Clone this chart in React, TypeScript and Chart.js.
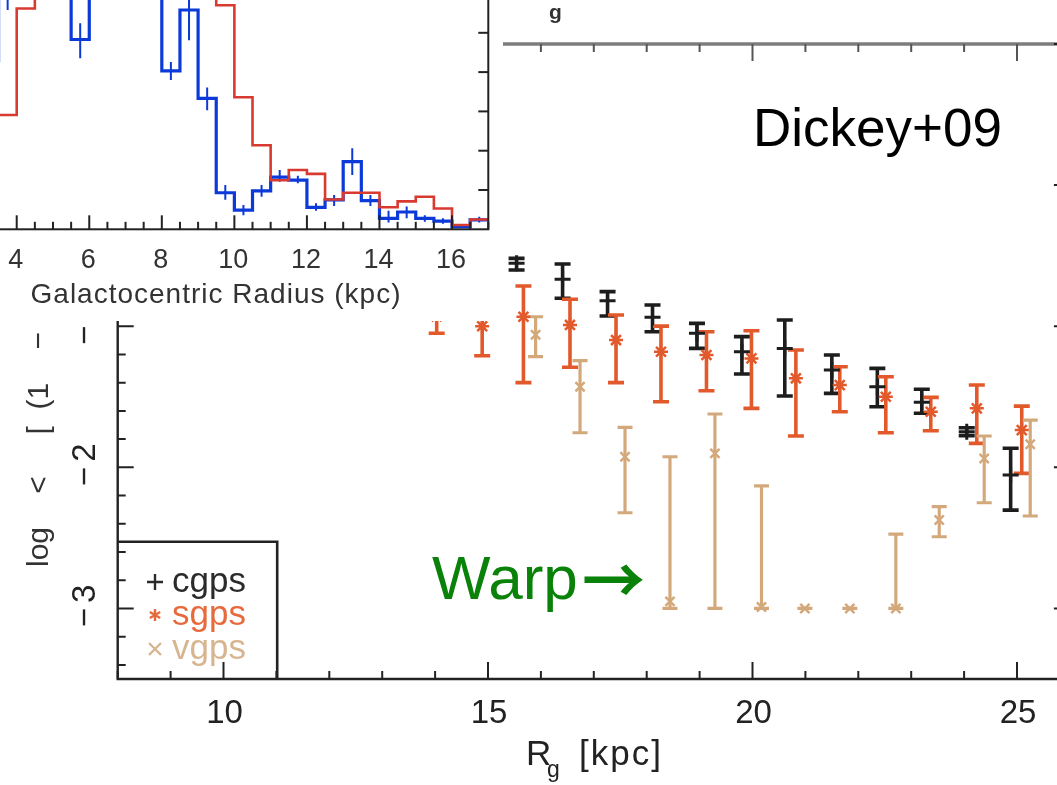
import React, { useEffect, useRef } from 'react';
import { Chart, registerables } from 'chart.js';
Chart.register(...registerables);

const FONT = '"Liberation Sans", Arial, Helvetica, sans-serif';

// ---------------- main panel data (R_g in kpc, log value) ----------------
const cgpsR = [15.54, 16.41, 17.26, 18.11, 18.95, 19.8, 20.61, 21.5, 22.36, 23.2, 24.05, 24.88];
const cgpsVal = [-0.554, -0.668, -0.819, -0.937, -1.05, -1.181, -1.157, -1.31, -1.429, -1.539, -1.748, -2.055];
const cgpsLo = [-0.602, -0.802, -0.928, -1.039, -1.157, -1.339, -1.495, -1.476, -1.571, -1.617, -1.775, -2.303];
const cgpsHi = [-0.519, -0.559, -0.755, -0.85, -0.98, -1.074, -0.956, -1.204, -1.299, -1.447, -1.72, -1.865];

const sgpsR = [14.03, 14.89, 15.67, 16.55, 17.42, 18.27, 19.13, 19.98, 20.82, 21.65, 22.52, 23.37, 24.24, 25.09];
const sgpsVal = [-0.93, -1.0, -0.933, -0.991, -1.098, -1.181, -1.204, -1.228, -1.369, -1.417, -1.5, -1.606, -1.582, -1.736];
const sgpsLo = [-1.05, -1.209, -1.4, -1.291, -1.4, -1.535, -1.457, -1.582, -1.778, -1.606, -1.755, -1.741, -1.83, -2.043];
const sgpsHi = [-0.82, -0.78, -0.715, -0.809, -0.921, -0.999, -1.039, -1.032, -1.169, -1.287, -1.358, -1.504, -1.417, -1.566];

const vgpsR = [15.9, 16.74, 17.59, 18.44, 19.29, 20.17, 20.99, 21.84, 22.71, 23.53, 24.38, 25.25];
const vgpsVal = [-1.06, -1.429, -1.925, -2.95, -1.901, -2.99, -3.0, -3.0, -3.0, -2.373, -1.937, -1.836];
const vgpsLo = [-1.216, -1.755, -2.322, -3.0, -3.0, -3.0, -3.0, -3.0, -3.0, -2.492, -2.251, -2.345];
const vgpsHi = [-0.933, -1.244, -1.717, -1.925, -1.622, -2.132, -3.0, -3.0, -2.473, -2.279, -1.778, -1.665];

const xTickValues = [10, 15, 20, 25];
const xTickLabels = ['10', '15', '20', '25'];
const yTickValues = [-3, -2, -1];
const yTickLabels = ['\u22123', '\u22122', '\u22121'];
const legendLabels = ['cgps', 'sgps', 'vgps'];

// ---------------- inset histogram data ----------------
const insetBinLeft = [3.0, 3.5, 4.0, 4.5, 5.0, 5.5, 6.0, 6.5, 7.0, 7.5, 8.0, 8.5, 9.0, 9.5, 10.0, 10.5, 11.0, 11.5, 12.0, 12.5, 13.0, 13.5, 14.0, 14.5, 15.0, 15.5, 16.0, 16.5];
const insetLastEdge = 17.0;
const insetRed = [2.27, 2.91, 5.62, 7.0, 7.5, 7.8, 8.0, 8.0, 7.6, 7.2, 7.0, 6.8, 6.5, 5.7, 3.36, 2.14, 1.25, 1.51, 1.41, 0.76, 0.93, 0.93, 0.56, 0.71, 0.83, 0.53, 0.11, 0.25];
const insetBlue = [4.3, 6.3, 6.5, 6.8, 6.2, 4.83, 6.5, 7.0, 7.2, 6.8, 4.03, 5.58, 3.33, 0.93, 0.49, 0.98, 1.33, 1.25, 0.56, 0.75, 1.72, 0.73, 0.28, 0.44, 0.28, 0.21, 0.07, 0.24];
const insetBlueErrLo = [null, 5.58, null, null, null, 4.35, null, null, null, null, 3.8, 4.81, 3.03, 0.75, 0.36, 0.83, 1.21, 1.17, 0.47, 0.59, 1.38, 0.59, 0.17, 0.28, 0.19, 0.14, null, 0.17];
const insetBlueErrHi = [null, 7.0, null, null, null, 5.24, null, null, null, null, 4.26, 6.4, 3.61, 1.13, 0.62, 1.13, 1.51, 1.36, 0.66, 0.87, 2.06, 0.87, 0.47, 0.58, 0.36, 0.28, null, 0.32];
const insetXTickValues = [4, 6, 8, 10, 12, 14, 16];
const insetXTickLabels = ['4', '6', '8', '10', '12', '14', '16'];

const BLACK = '#1d1d1d';
const ORANGE = '#e2592b';
const TAN = '#d3a97c';
const RED = '#d83a30';
const BLUE = '#0b3ad8';

type ErrSet = { index: number; lo: (number | null)[]; hi: (number | null)[]; color: string; width: number; cap: number };

function makeErrorBarPlugin(id: string, sets: ErrSet[]) {
  return {
    id,
    beforeDatasetsDraw(chart: any) {
      const { ctx, chartArea: a } = chart;
      const ys = chart.scales.y;
      ctx.save();
      ctx.beginPath();
      ctx.rect(a.left, a.top, a.right - a.left, a.bottom - a.top);
      ctx.clip();
      for (const s of sets) {
        const meta = chart.getDatasetMeta(s.index);
        ctx.strokeStyle = s.color;
        ctx.lineWidth = s.width;
        ctx.lineCap = 'butt';
        meta.data.forEach((el: any, j: number) => {
          const lo = s.lo[j];
          const hi = s.hi[j];
          if (lo == null || hi == null) return;
          const x = el.x;
          const y1 = ys.getPixelForValue(lo);
          const y2 = ys.getPixelForValue(hi);
          ctx.beginPath();
          ctx.moveTo(x, y1);
          ctx.lineTo(x, y2);
          if (s.cap > 0) {
            ctx.moveTo(x - s.cap, y1);
            ctx.lineTo(x + s.cap, y1);
            ctx.moveTo(x - s.cap, y2);
            ctx.lineTo(x + s.cap, y2);
          }
          ctx.stroke();
        });
      }
      ctx.restore();
    },
  };
}

const mainAxesPlugin = {
  id: 'mainAxes',
  afterDraw(chart: any) {
    const { ctx, chartArea: a } = chart;
    const xs = chart.scales.x;
    const ys = chart.scales.y;
    ctx.save();
    // frame (left, bottom, right)
    ctx.strokeStyle = '#222';
    ctx.lineWidth = 2.4;
    ctx.beginPath();
    ctx.moveTo(a.left, a.top);
    ctx.lineTo(a.left, a.bottom);
    ctx.lineTo(a.right, a.bottom);
    ctx.lineTo(a.right, a.top);
    ctx.stroke();
    // top axis (grey)
    ctx.strokeStyle = '#7c7c7c';
    ctx.lineWidth = 3.5;
    ctx.beginPath();
    ctx.moveTo(a.left, a.top);
    ctx.lineTo(a.right, a.top);
    ctx.stroke();
    // x ticks
    for (let v = 8; v <= 26; v++) {
      const px = xs.getPixelForValue(v);
      const len = v % 5 === 0 ? 17 : 8;
      ctx.strokeStyle = '#222';
      ctx.lineWidth = 2;
      ctx.beginPath();
      ctx.moveTo(px, a.bottom);
      ctx.lineTo(px, a.bottom - len);
      ctx.stroke();
      ctx.strokeStyle = '#555';
      ctx.beginPath();
      ctx.moveTo(px, a.top);
      ctx.lineTo(px, a.top + len);
      ctx.stroke();
    }
    // y ticks every 0.2
    ctx.strokeStyle = '#222';
    ctx.lineWidth = 2;
    for (let t = -34; t <= 10; t += 2) {
      const py = ys.getPixelForValue(t / 10);
      const len = t % 10 === 0 ? 16 : 8;
      ctx.beginPath();
      ctx.moveTo(a.left, py);
      ctx.lineTo(a.left + len, py);
      ctx.moveTo(a.right, py);
      ctx.lineTo(a.right - len, py);
      ctx.stroke();
    }
    // x tick labels
    ctx.fillStyle = '#222';
    ctx.font = `33px ${FONT}`;
    ctx.textAlign = 'center';
    ctx.textBaseline = 'alphabetic';
    xTickValues.forEach((v, i) => {
      ctx.fillText(xTickLabels[i], xs.getPixelForValue(v) + 1, 723);
    });
    // y tick labels (rotated)
    (ctx as any).letterSpacing = '5px';
    yTickValues.forEach((v, i) => {
      ctx.save();
      ctx.translate(95, ys.getPixelForValue(v) - 3);
      ctx.rotate(-Math.PI / 2);
      ctx.textAlign = 'center';
      ctx.fillText(yTickLabels[i], 2, 0);
      ctx.restore();
    });
    (ctx as any).letterSpacing = '0px';
    // y title (rotated)
    ctx.save();
    ctx.translate(48, 567);
    ctx.rotate(-Math.PI / 2);
    ctx.textAlign = 'left';
    ctx.font = `30px ${FONT}`;
    ctx.fillStyle = '#333';
    ctx.fillText('log    <     [  (1    \u2212    e', 0, 0);
    ctx.restore();
    // x title
    ctx.fillStyle = '#222';
    ctx.textAlign = 'left';
    ctx.font = `35px ${FONT}`;
    ctx.fillText('R', 526, 765);
    ctx.font = `23px ${FONT}`;
    ctx.fillText('g', 547, 777);
    ctx.font = `35px ${FONT}`;
    (ctx as any).letterSpacing = '2px';
    ctx.fillText('[kpc]', 579, 765);
    (ctx as any).letterSpacing = '0px';
    // fragment of the panel above
    ctx.font = `bold 21px ${FONT}`;
    ctx.fillStyle = '#333';
    ctx.fillText('g', 549, 19);
    // legend box
    ctx.strokeStyle = '#222';
    ctx.lineWidth = 2.6;
    ctx.beginPath();
    ctx.moveTo(a.left, 541.7);
    ctx.lineTo(277.2, 541.7);
    ctx.lineTo(277.2, a.bottom);
    ctx.stroke();
    const lgColors = ['#2b2b2b', '#e76a3d', '#d7b590'];
    const lgBase = [592, 625, 659];
    ctx.font = `35px ${FONT}`;
    legendLabels.forEach((lab, i) => {
      ctx.fillStyle = lgColors[i];
      ctx.fillText(lab, 172, lgBase[i]);
      const cx = 155;
      const cy = lgBase[i] - 10;
      ctx.strokeStyle = lgColors[i];
      ctx.lineWidth = 2.4;
      ctx.beginPath();
      if (i === 0) {
        ctx.moveTo(cx - 8, cy);
        ctx.lineTo(cx + 8, cy);
        ctx.moveTo(cx, cy - 8);
        ctx.lineTo(cx, cy + 8);
      } else if (i === 1) {
        for (let k = 0; k < 3; k++) {
          const ang = (Math.PI / 3) * k + Math.PI / 2;
          ctx.moveTo(cx - 6 * Math.cos(ang), cy - 6 * Math.sin(ang));
          ctx.lineTo(cx + 6 * Math.cos(ang), cy + 6 * Math.sin(ang));
        }
      } else {
        ctx.moveTo(cx - 6, cy - 6);
        ctx.lineTo(cx + 6, cy + 6);
        ctx.moveTo(cx + 6, cy - 6);
        ctx.lineTo(cx - 6, cy + 6);
      }
      ctx.stroke();
    });
    // annotations
    ctx.fillStyle = '#000';
    ctx.font = `53px ${FONT}`;
    ctx.fillText('Dickey+09', 753, 146);
    ctx.fillStyle = '#0a820a';
    ctx.font = `62px ${FONT}`;
    ctx.fillText('Warp', 432, 599);
    ctx.font = `bold 63px "Noto Sans CJK SC", "Noto Sans CJK JP", "DejaVu Sans", sans-serif`;
    ctx.fillText('\u2192', 582, 603);
    ctx.restore();
  },
};

const insetAxesPlugin = {
  id: 'insetAxes',
  afterDraw(chart: any) {
    const { ctx, chartArea: a } = chart;
    const xs = chart.scales.x;
    const ys = chart.scales.y;
    ctx.save();
    ctx.strokeStyle = '#222';
    ctx.lineWidth = 2;
    ctx.strokeRect(a.left, a.top, a.right - a.left, a.bottom - a.top);
    for (let t = 25; t <= 170; t += 5) {
      const px = xs.getPixelForValue(t / 10);
      const len = t % 20 === 0 ? 14 : 7.5;
      ctx.beginPath();
      ctx.moveTo(px, a.bottom);
      ctx.lineTo(px, a.bottom - len);
      ctx.stroke();
    }
    for (let v = 1; v < 8; v++) {
      const py = ys.getPixelForValue(v);
      ctx.beginPath();
      ctx.moveTo(a.right, py);
      ctx.lineTo(a.right - 10, py);
      ctx.stroke();
    }
    ctx.fillStyle = '#333';
    ctx.font = `27px ${FONT}`;
    ctx.textAlign = 'center';
    ctx.textBaseline = 'alphabetic';
    insetXTickValues.forEach((v, i) => {
      ctx.fillText(insetXTickLabels[i], xs.getPixelForValue(v) - 1, a.bottom + 39);
    });
    (ctx as any).letterSpacing = '1px';
    ctx.font = `28px ${FONT}`;
    ctx.fillText('Galactocentric Radius (kpc)', 276, a.bottom + 74);
    ctx.restore();
  },
};

export default function App() {
  const mainRef = useRef<HTMLCanvasElement>(null);
  const insetRef = useRef<HTMLCanvasElement>(null);

  useEffect(() => {
    document.body.style.margin = '0';
    const mainErr = makeErrorBarPlugin('mainErr', [
      { index: 0, lo: cgpsLo, hi: cgpsHi, color: BLACK, width: 3.6, cap: 8 },
      { index: 1, lo: sgpsLo, hi: sgpsHi, color: ORANGE, width: 3.6, cap: 8 },
      { index: 2, lo: vgpsLo, hi: vgpsHi, color: TAN, width: 3.2, cap: 7.5 },
    ]);
    const mainChart = new Chart(mainRef.current as HTMLCanvasElement, {
      type: 'scatter',
      data: {
        datasets: [
          {
            label: 'cgps',
            data: cgpsR.map((x, i) => ({ x, y: cgpsVal[i] })),
            pointStyle: 'cross',
            pointRadius: 8,
            borderColor: BLACK,
            backgroundColor: BLACK,
            borderWidth: 3,
            pointBorderWidth: 3,
          },
          {
            label: 'sgps',
            data: sgpsR.map((x, i) => ({ x, y: sgpsVal[i] })),
            pointStyle: 'star',
            pointRadius: 7,
            borderColor: ORANGE,
            backgroundColor: ORANGE,
            borderWidth: 2.5,
            pointBorderWidth: 2.5,
          },
          {
            label: 'vgps',
            data: vgpsR.map((x, i) => ({ x, y: vgpsVal[i] })),
            pointStyle: 'crossRot',
            pointRadius: 6.5,
            borderColor: TAN,
            backgroundColor: TAN,
            borderWidth: 2.5,
            pointBorderWidth: 2.5,
          },
        ],
      } as any,
      options: {
        responsive: false,
        animation: false,
        devicePixelRatio: 1,
        events: [],
        layout: { autoPadding: false, padding: { left: 117.7, right: 30.1, top: 44, bottom: 106 } },
        scales: {
          x: { type: 'linear', min: 8, max: 26, display: false },
          y: { type: 'linear', min: -3.5, max: 1, display: false },
        },
        plugins: { legend: { display: false }, tooltip: { enabled: false } },
      } as any,
      plugins: [mainErr, mainAxesPlugin],
    });

    const redPts = insetBinLeft.map((x, i) => ({ x, y: insetRed[i] }));
    redPts.push({ x: insetLastEdge, y: insetRed[insetRed.length - 1] });
    const bluePts = insetBinLeft.map((x, i) => ({ x, y: insetBlue[i] }));
    bluePts.push({ x: insetLastEdge, y: insetBlue[insetBlue.length - 1] });
    const blueCenters = insetBinLeft.map((x, i) => ({ x: x + 0.25, y: insetBlue[i] }));
    const insetErr = makeErrorBarPlugin('insetErr', [
      { index: 2, lo: insetBlueErrLo, hi: insetBlueErrHi, color: BLUE, width: 2, cap: 0 },
    ]);
    const insetChart = new Chart(insetRef.current as HTMLCanvasElement, {
      type: 'line',
      data: {
        datasets: [
          { label: 'red', data: redPts, stepped: 'before', borderColor: RED, borderWidth: 2.6, pointRadius: 0, fill: false },
          { label: 'blue', data: bluePts, stepped: 'before', borderColor: BLUE, borderWidth: 3.2, pointRadius: 0, fill: false },
          { label: 'blueErr', data: blueCenters, showLine: false, borderColor: BLUE, pointRadius: 0 },
        ],
      } as any,
      options: {
        responsive: false,
        animation: false,
        devicePixelRatio: 1,
        events: [],
        layout: { autoPadding: false, padding: { left: 22.3, right: 14.7, top: 34.9, bottom: 91.7 } },
        scales: {
          x: { type: 'linear', min: 2.5, max: 17, display: false },
          y: { type: 'linear', min: 0, max: 8, display: false },
        },
        plugins: { legend: { display: false }, tooltip: { enabled: false } },
      } as any,
      plugins: [insetErr, insetAxesPlugin],
    });

    return () => {
      mainChart.destroy();
      insetChart.destroy();
    };
  }, []);

  return (
    <div style={{ position: 'fixed', left: 0, top: 0, width: 1057, height: 785, overflow: 'hidden', background: '#fff' }}>
      <canvas ref={mainRef} width={1100} height={785} style={{ position: 'absolute', left: 0, top: 0, width: 1100, height: 785 }} />
      <canvas ref={insetRef} width={563} height={441} style={{ position: 'absolute', left: -60, top: -120, width: 563, height: 441, background: '#fff' }} />
    </div>
  );
}
